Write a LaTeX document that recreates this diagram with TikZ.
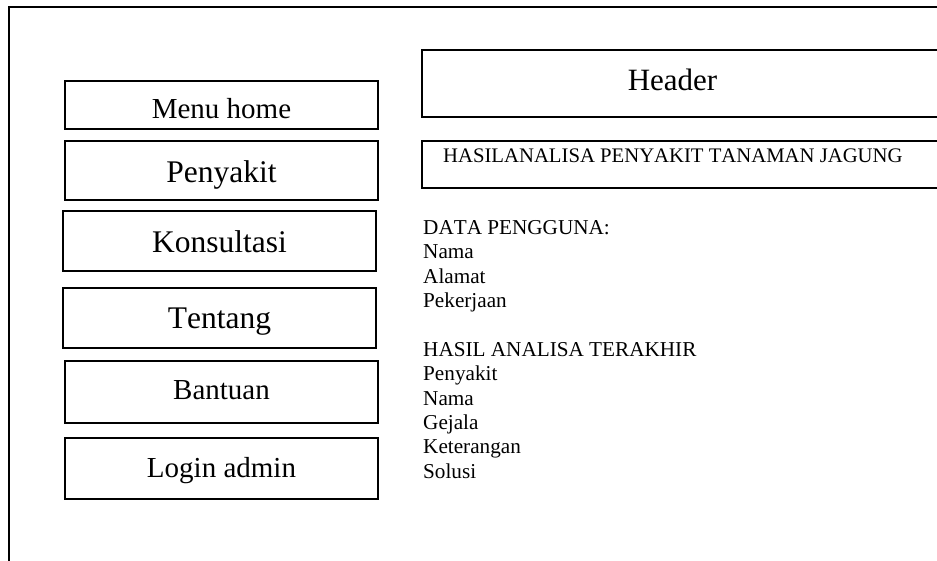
\documentclass[tikz,border=0pt]{standalone}
\usepackage{fontspec}
\setmainfont{Liberation Serif}[Kerning=Off]
\begin{document}
\begin{tikzpicture}[x=1pt,y=-1pt,
  frame/.style={draw, line width=1.8pt},
  menubox/.style={draw, line width=1.6pt, inner sep=0pt, outer sep=0pt},
  big/.style={font=\fontsize{31.5}{36}\selectfont, anchor=base, inner sep=0pt},
  mid/.style={font=\fontsize{29}{34}\selectfont, anchor=base, inner sep=0pt},
  head/.style={font=\fontsize{31}{36}\selectfont, anchor=base, inner sep=0pt},
  small/.style={font=\fontsize{21.2}{24}\selectfont, anchor=base west, inner sep=0pt},
  title/.style={font=\fontsize{20.7}{24}\selectfont, anchor=base west, inner sep=0pt},
]
\useasboundingbox (0,0) rectangle (937,560);
\fill[white] (0,0) rectangle (937,560);
\clip (0,0) rectangle (937,560);
\draw[frame] (9.3,7.3) rectangle (970,600);

% left menu
\node[menubox, minimum width=313pt, minimum height=48pt] (bhome) at (221.5,105) {};
\node[mid] (thome) at (221.5,118) {Menu home};
\node[menubox, minimum width=313pt, minimum height=59pt] (bpeny) at (221.5,170.5) {};
\node[big] (tpeny) at (221.5,182) {Penyakit};
\node[menubox, minimum width=313pt, minimum height=60pt] (bkons) at (219.5,241) {};
\node[big] (tkons) at (219.5,252) {Konsultasi};
\node[menubox, minimum width=313pt, minimum height=60pt] (btent) at (219.5,318) {};
\node[big] (ttent) at (219.5,328) {Tentang};
\node[menubox, minimum width=313pt, minimum height=62pt] (bbant) at (221.5,392) {};
\node[mid] (tbant) at (221.5,399) {Bantuan};
\node[menubox, minimum width=313pt, minimum height=61pt] (blogin) at (221.5,468.5) {};
\node[mid] (tlogin) at (221.5,477) {Login admin};

% right side
\node[menubox, minimum width=538pt, minimum height=67pt] (bheader) at (691,83.5) {};
\node[head] (theader) at (672.5,90) {Header};
\node[menubox, minimum width=538pt, minimum height=47pt] (bhasil) at (691,164.5) {};
\node[title] (thasil) at (443,162.5) {HASILANALISA PENYAKIT TANAMAN JAGUNG};

\foreach \t/\k in {DATA PENGGUNA:/0, Nama/1, Alamat/2, Pekerjaan/3,
  HASIL ANALISA TERAKHIR/5, Penyakit/6, Nama/7, Gejala/8, Keterangan/9, Solusi/10}
  \node[small] (line\k) at (423,{234.3+24.4*\k}) {\t};
\end{tikzpicture}
\end{document}
